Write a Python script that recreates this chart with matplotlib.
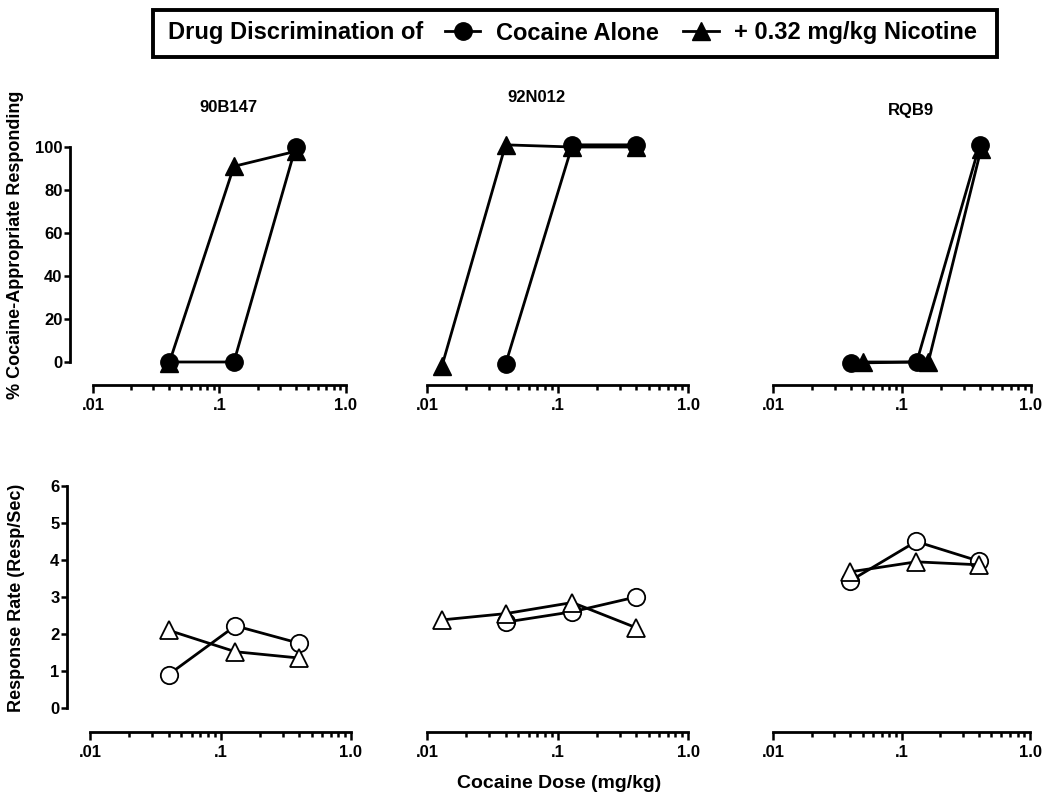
import numpy as np
import matplotlib
matplotlib.use("Agg")
import matplotlib.pyplot as plt
from matplotlib.lines import Line2D
from matplotlib.patches import Rectangle
from matplotlib.ticker import LogLocator, NullFormatter

plt.rcParams['font.family'] = ['Liberation Sans', 'DejaVu Sans']
plt.rcParams['font.weight'] = 'bold'

# -----------------------------
# Data
# -----------------------------
subjects = ["90B147", "92N012", "RQB9"]

# % cocaine-appropriate responding (top row)
coc_dose = [[0.04, 0.13, 0.4], [0.04, 0.13, 0.4], [0.04, 0.13, 0.4]]
coc_pct = [[0, 0, 100], [-1, 101, 101], [-0.5, 0, 101]]
nic_dose = [[0.04, 0.13, 0.4], [0.013, 0.04, 0.13, 0.4], [0.05, 0.16, 0.41]]
nic_pct = [[-0.5, 91, 98], [-2, 101, 100, 100], [0, 0, 99]]

# response rate (bottom row)
coc_rate_dose = [[0.04, 0.13, 0.4], [0.04, 0.13, 0.4], [0.04, 0.13, 0.4]]
coc_rate = [[0.9, 2.22, 1.75], [2.32, 2.6, 3.0], [3.44, 4.5, 3.97]]
nic_rate_dose = [[0.04, 0.13, 0.4], [0.013, 0.04, 0.13, 0.4], [0.04, 0.13, 0.4]]
nic_rate = [[2.1, 1.52, 1.35], [2.38, 2.55, 2.85, 2.17], [3.68, 3.95, 3.87]]

x_ticks = [0.01, 0.1, 1.0]
x_ticklabels = [".01", ".1", "1.0"]
pct_ticks = [0, 20, 40, 60, 80, 100]
rate_ticks = [0, 1, 2, 3, 4, 5, 6]

W, H = 1050, 802
fig = plt.figure(figsize=(W / 100, H / 100), dpi=100)


def px_axes(x0, x1, y0, y1):
    # y0 = top pixel, y1 = bottom pixel
    return fig.add_axes([x0 / W, 1 - y1 / H, (x1 - x0) / W, (y1 - y0) / H])


def style_axis(ax, first, ymax, ymin, yticks):
    ax.set_xscale('log')
    ax.set_xlim(0.01, 1.0)
    ax.set_ylim(ymin, ymax)
    ax.set_xticks(x_ticks)
    ax.set_xticklabels(x_ticklabels)
    ax.xaxis.set_minor_locator(LogLocator(base=10, subs=np.arange(2, 10)))
    ax.xaxis.set_minor_formatter(NullFormatter())
    ax.tick_params(axis='x', which='major', direction='out', length=5.5,
                   width=1.8, labelsize=12, pad=4)
    ax.tick_params(axis='x', which='minor', direction='out', length=3.5,
                   width=1.8)
    for s in ['top', 'right']:
        ax.spines[s].set_visible(False)
    ax.spines['bottom'].set_linewidth(2.0)
    if first:
        ax.spines['left'].set_position(('outward', 16.5))
        ax.spines['left'].set_bounds(0, ymax)
        ax.spines['left'].set_linewidth(2.0)
        ax.set_yticks(yticks)
        ax.tick_params(axis='y', direction='out', length=4.5, width=1.8,
                       labelsize=12, pad=1)
    else:
        ax.spines['left'].set_visible(False)
        ax.set_yticks([])
    for lab in ax.get_xticklabels() + ax.get_yticklabels():
        lab.set_fontweight('bold')


top_px = [(93, 346), (427, 688), (773, 1031)]
bot_px = [(90, 351), (427, 688), (773, 1030)]

ms = 12.5
lw = 2.0
for i in range(3):
    ax = px_axes(top_px[i][0], top_px[i][1], 147, 385)
    style_axis(ax, i == 0, 100, -10.7, pct_ticks)
    ax.plot(nic_dose[i], nic_pct[i], color='black', lw=lw, marker='^',
            ms=ms, mfc='black', mec='black', clip_on=False, zorder=3)
    ax.plot(coc_dose[i], coc_pct[i], color='black', lw=lw, marker='o',
            ms=ms, mfc='black', mec='black', clip_on=False, zorder=4)

    ax = px_axes(bot_px[i][0], bot_px[i][1], 486, 732)
    style_axis(ax, i == 0, 6, -0.65, rate_ticks)
    ax.plot(coc_rate_dose[i], coc_rate[i], color='black', lw=lw, marker='o',
            ms=ms, mfc='white', mec='black', mew=1.3, clip_on=False, zorder=3)
    ax.plot(nic_rate_dose[i], nic_rate[i], color='black', lw=lw, marker='^',
            ms=ms, mfc='white', mec='black', mew=1.3, clip_on=False, zorder=4)

# axis labels
fig.text(16 / W, 1 - 245 / H, "% Cocaine-Appropriate Responding",
         rotation=90, ha='center', va='center', fontsize=13,
         fontweight='bold')
fig.text(17 / W, 1 - 598 / H, "Response Rate (Resp/Sec)",
         rotation=90, ha='center', va='center', fontsize=13,
         fontweight='bold')
fig.text(559 / W, 1 - 783 / H, "Cocaine Dose (mg/kg)", ha='center',
         va='center', fontsize=14, fontweight='bold')

# subject titles
title_pos = [(228, 108), (536, 98), (911, 111)]
for name, (tx, ty) in zip(subjects, title_pos):
    fig.text(tx / W, 1 - ty / H, name, ha='center', va='center',
             fontsize=12, fontweight='bold')

# legend box at top
fig.patches.append(Rectangle((153 / W, 1 - 57 / H), 844 / W, 47 / H,
                             transform=fig.transFigure, fill=False,
                             lw=2.8, ec='black'))
fig.text(168 / W, 1 - 33 / H, "Drug Discrimination of", ha='left',
         va='center', fontsize=17, fontweight='bold')
handles = [Line2D([], [], color='black', lw=lw, marker='o', ms=ms),
           Line2D([], [], color='black', lw=lw, marker='^', ms=ms)]
leg = fig.legend(handles, ["Cocaine Alone", "+ 0.32 mg/kg Nicotine"],
                 loc='center left', bbox_to_anchor=(445 / W, 1 - 33 / H),
                 ncol=2, frameon=False, borderpad=0, borderaxespad=0,
                 handlelength=1.5, handletextpad=0.64, columnspacing=1.06,
                 numpoints=1, prop={'size': 17, 'weight': 'bold'})

fig.savefig("out.png", dpi=100)
